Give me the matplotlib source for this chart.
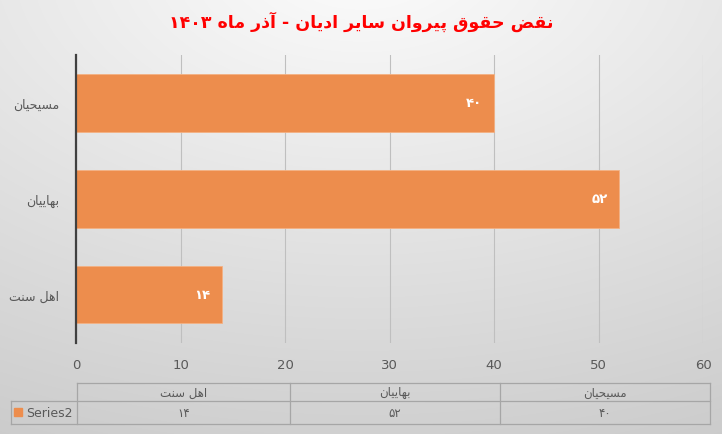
import numpy as np
import matplotlib
matplotlib.use("Agg")
import matplotlib.pyplot as plt
from matplotlib.patches import Rectangle

plt.rcParams.update({
    "font.family": ["DejaVu Sans"],
    "axes.unicode_minus": False,
})

# ----- datos -----
TITLE = "نقض حقوق پیروان سایر ادیان - آذر ماه ۱۴۰۳"
categories = ["اهل سنت", "بهاییان", "مسیحیان"]   # de abajo hacia arriba
values = [14, 52, 40]
series_name = "Series2"
xticks = [0, 10, 20, 30, 40, 50, 60]

ORANGE = "#ED8D4D"
GRID = "#BFBFBF"
TXT = "#595959"

# ----- conformado minimo de letras arabes/persas (formas de presentacion) -----
# (aislada, final, inicial, medial); None en inicial => solo une a la derecha
FORMS = {
    "ا": ("\uFE8D", "\uFE8E", None, None),
    "آ": ("\uFE81", "\uFE82", None, None),
    "ب": ("\uFE8F", "\uFE90", "\uFE91", "\uFE92"),
    "ت": ("\uFE95", "\uFE96", "\uFE97", "\uFE98"),
    "ج": ("\uFE9D", "\uFE9E", "\uFE9F", "\uFEA0"),
    "ح": ("\uFEA1", "\uFEA2", "\uFEA3", "\uFEA4"),
    "د": ("\uFEA9", "\uFEAA", None, None),
    "ذ": ("\uFEAB", "\uFEAC", None, None),
    "ر": ("\uFEAD", "\uFEAE", None, None),
    "س": ("\uFEB1", "\uFEB2", "\uFEB3", "\uFEB4"),
    "ض": ("\uFEBD", "\uFEBE", "\uFEBF", "\uFEC0"),
    "ق": ("\uFED5", "\uFED6", "\uFED7", "\uFED8"),
    "ل": ("\uFEDD", "\uFEDE", "\uFEDF", "\uFEE0"),
    "م": ("\uFEE1", "\uFEE2", "\uFEE3", "\uFEE4"),
    "ن": ("\uFEE5", "\uFEE6", "\uFEE7", "\uFEE8"),
    "ه": ("\uFEE9", "\uFEEA", "\uFEEB", "\uFEEC"),
    "و": ("\uFEED", "\uFEEE", None, None),
    "ی": ("\uFBFC", "\uFBFD", "\uFBFE", "\uFBFF"),
    "پ": ("\uFB56", "\uFB57", "\uFB58", "\uFB59"),
}
FA_DIGITS = str.maketrans("0123456789", "۰۱۲۳۴۵۶۷۸۹")


def rtl(s):
    out = []
    for i, c in enumerate(s):
        if c not in FORMS:
            out.append(c)
            continue
        prev = s[i - 1] if i > 0 else ""
        nxt = s[i + 1] if i + 1 < len(s) else ""
        jp = prev in FORMS and FORMS[prev][2] is not None
        jn = nxt in FORMS and FORMS[c][2] is not None
        f = FORMS[c]
        out.append(f[3] if (jp and jn) else f[1] if jp else f[2] if jn else f[0])
    # invertir, manteniendo los numeros en orden izquierda-derecha
    tokens, cur = [], ""
    for c in out:
        if c.isdigit():
            cur += c
        else:
            if cur:
                tokens.append(cur)
                cur = ""
            tokens.append(c)
    if cur:
        tokens.append(cur)
    return "".join(tokens[::-1])


def fa_num(v):
    return str(v).translate(FA_DIGITS)


W, H = 722, 435
fig = plt.figure(figsize=(W / 100, H / 100), dpi=100)

# fondo con degradado gris
bg = fig.add_axes([0, 0, 1, 1], zorder=-10)
yy, xx = np.mgrid[0:H, 0:W]
r = np.sqrt(((xx - W / 2) / W) ** 2 + ((yy + 40) / H) ** 2)
shade = 0.975 - 0.16 * np.clip(r - 0.1, 0, 1.2)
bg.imshow(np.dstack([shade] * 3), extent=[0, W, H, 0], aspect="auto")
bg.set_xlim(0, W)
bg.set_ylim(H, 0)
bg.axis("off")

ax = fig.add_axes([76 / W, 1 - 343.5 / H, (703 - 76) / W, (343.5 - 56) / H])
ax.patch.set_alpha(0)
y = np.arange(len(categories))
bars = ax.barh(y, values, height=0.6, color=ORANGE, edgecolor="#F4B183", lw=0.6, zorder=3)
for b, v in zip(bars, values):
    ax.text(b.get_width() - 1.1, b.get_y() + b.get_height() / 2, fa_num(v),
            ha="right", va="center", color="white", fontsize=9.5, fontweight="bold", zorder=4)

ax.set_xlim(0, 60)
ax.set_ylim(-0.5, len(categories) - 0.5)
ax.set_xticks(xticks)
ax.set_xticklabels([str(t) for t in xticks], fontsize=9.5, color=TXT)
ax.set_yticks(y)
ax.set_yticklabels([rtl(c) for c in categories], fontsize=9, color=TXT)
ax.tick_params(axis="y", length=0, pad=12)
ax.tick_params(axis="x", length=0, pad=11)
ax.grid(axis="x", color=GRID, lw=0.8, zorder=0)
for s in ["top", "right", "bottom"]:
    ax.spines[s].set_visible(False)
ax.spines["left"].set_color("#404040")
ax.spines["left"].set_linewidth(1.6)
ax.spines["left"].set_zorder(5)

fig.text(0.5, 1 - 22 / H, rtl(TITLE), ha="center", va="center",
         color="#FF0000", fontsize=12.5, fontweight="bold")

# ----- tabla de datos -----
tab = fig.add_axes([0, 0, 1, 1], zorder=5)
tab.set_xlim(0, W)
tab.set_ylim(H, 0)
tab.axis("off")
tab.patch.set_alpha(0)
col_x = [77, 290, 500, 710]
y_top, y_mid, y_bot = 384, 402, 425
lc = "#A6A6A6"
tab.plot([col_x[0], col_x[-1]], [y_top, y_top], color=lc, lw=0.9)
tab.plot([11, col_x[-1]], [y_mid, y_mid], color=lc, lw=0.9)
tab.plot([11, col_x[-1]], [y_bot, y_bot], color=lc, lw=0.9)
tab.plot([11, 11], [y_mid, y_bot], color=lc, lw=0.9)
for x in col_x:
    tab.plot([x, x], [y_top, y_bot], color=lc, lw=0.9)
for i, (c, v) in enumerate(zip(categories, values)):
    xc = (col_x[i] + col_x[i + 1]) / 2
    tab.text(xc, (y_top + y_mid) / 2, rtl(c), ha="center", va="center", fontsize=8.5, color=TXT)
    tab.text(xc, (y_mid + y_bot) / 2, fa_num(v), ha="center", va="center", fontsize=8.5, color=TXT)
tab.add_patch(Rectangle((14, 409), 8, 8, color=ORANGE))
tab.text(26, (y_mid + y_bot) / 2 + 0.5, series_name, ha="left", va="center", fontsize=9, color=TXT)

fig.savefig("out.png", dpi=100)
